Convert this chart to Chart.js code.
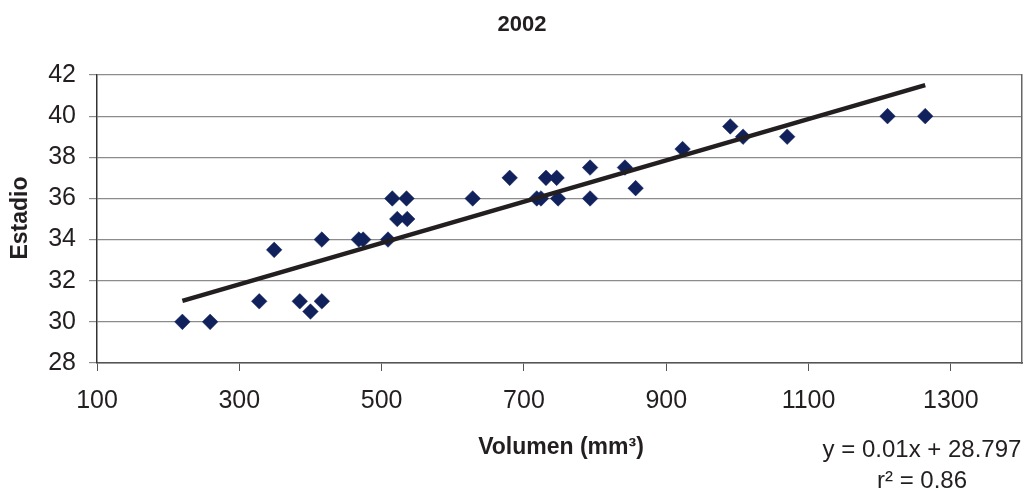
<!DOCTYPE html>
<html>
<head>
<meta charset="utf-8">
<script src="https://cdn.jsdelivr.net/npm/chart.js@4/dist/chart.umd.min.js"></script>
<style>
  html, body { margin: 0; padding: 0; background: #ffffff; }
  #wrap { width: 1024px; height: 491px; position: relative; }
</style>
</head>
<body>
<div id="wrap"><canvas id="c" width="1024" height="491"></canvas></div>
<script>
// ---- Data ----
const volumen = [220, 259, 328, 349, 385, 400, 416, 416, 468, 474, 509, 515, 522, 535, 536, 628,
                 680, 718, 724, 731, 746, 748, 793, 793, 842, 857, 923, 990, 1008, 1070, 1211, 1264];
const estadio = [30, 30, 31, 33.5, 31, 30.5, 31, 34, 34, 34, 34, 36, 35, 36, 35, 36,
                 37, 36, 36, 37, 37, 36, 37.5, 36, 37.5, 36.5, 38.4, 39.5, 39, 39, 40, 40];
const xTicks = [100, 300, 500, 700, 900, 1100, 1300];
const yTicks = [28, 30, 32, 34, 36, 38, 40, 42];
const chartTitle = '2002';
const xTitle = 'Volumen (mm³)';
const yTitle = 'Estadio';
const equationLines = ['y = 0.01x + 28.797', 'r² = 0.86'];

// ---- Linear trendline (least squares over the data) ----
const n = volumen.length;
const mx = volumen.reduce((a, b) => a + b, 0) / n;
const my = estadio.reduce((a, b) => a + b, 0) / n;
let sxy = 0, sxx = 0;
for (let i = 0; i < n; i++) { sxy += (volumen[i] - mx) * (estadio[i] - my); sxx += (volumen[i] - mx) ** 2; }
const slope = sxy / sxx;
const intercept = my - slope * mx;
const xMin = Math.min(...volumen), xMax = Math.max(...volumen);
const trend = [{ x: xMin, y: intercept + slope * xMin }, { x: xMax, y: intercept + slope * xMax }];

const points = volumen.map((v, i) => ({ x: v, y: estadio[i] }));
const FONT = '"Liberation Sans", Arial, Helvetica, sans-serif';
const TXT = '#231f20';

const textPlugin = {
  id: 'texts',
  afterDraw(chart) {
    const ctx = chart.ctx;
    ctx.save();
    ctx.fillStyle = TXT;
    ctx.textAlign = 'center';
    ctx.textBaseline = 'middle';
    ctx.font = 'bold 22px ' + FONT;
    ctx.fillText(chartTitle, 522, 25);
    ctx.font = 'bold 23px ' + FONT;
    ctx.fillText(xTitle, 561, 448);
    ctx.save();
    ctx.translate(21, 218);
    ctx.rotate(-Math.PI / 2);
    ctx.fillText(yTitle, 0, 0);
    ctx.restore();
    ctx.font = '24px ' + FONT;
    ctx.fillText(equationLines[0], 922, 450);
    ctx.fillText(equationLines[1], 922, 481);
    ctx.restore();
  }
};

new Chart(document.getElementById('c'), {
  type: 'scatter',
  data: {
    datasets: [
      {
        type: 'line',
        label: 'Tendencia',
        data: trend,
        borderColor: '#231f20',
        borderWidth: 4.5,
        pointRadius: 0,
        fill: false,
        order: 0
      },
      {
        label: 'Estadio',
        data: points,
        pointStyle: 'rectRot',
        pointRadius: 7.8,
        pointHoverRadius: 7.8,
        backgroundColor: '#10215c',
        borderColor: '#10215c',
        borderWidth: 0.5,
        order: 1
      }
    ]
  },
  options: {
    responsive: false,
    animation: false,
    devicePixelRatio: 1,
    layout: { autoPadding: false, padding: { top: 75, left: 0, right: 0, bottom: 0 } },
    plugins: { legend: { display: false }, tooltip: { enabled: false }, title: { display: false } },
    scales: {
      x: {
        type: 'linear',
        min: 100,
        max: 1400,
        afterBuildTicks: (s) => { s.ticks = xTicks.map(v => ({ value: v })); },
        afterFit: (s) => { s.height = 128; s.paddingRight = 0; s.paddingLeft = 0; },
        grid: { drawOnChartArea: false, drawTicks: true, tickLength: 8, color: '#555555', lineWidth: 1 },
        border: { display: true, color: '#555555', width: 1.5 },
        ticks: { font: { family: FONT, size: 25 }, color: TXT, padding: 15, maxRotation: 0,
                 callback: (v) => String(v) }
      },
      y: {
        type: 'linear',
        min: 28,
        max: 42,
        afterBuildTicks: (s) => { s.ticks = yTicks.map(v => ({ value: v })); },
        afterFit: (s) => { s.width = 97; },
        grid: { drawOnChartArea: true, drawTicks: true, tickLength: 8, color: '#8c8c8c', lineWidth: 1.2 },
        border: { display: true, color: '#333333', width: 1.5 },
        ticks: { font: { family: FONT, size: 25 }, color: TXT, padding: 13, callback: (v) => String(v) }
      },
      y2: {
        type: 'linear',
        position: 'right',
        min: 28,
        max: 42,
        afterFit: (s) => { s.width = 2; },
        grid: { drawOnChartArea: false, drawTicks: false },
        border: { display: true, color: '#666666', width: 1.5 },
        ticks: { display: false }
      }
    }
  },
  plugins: [textPlugin]
});
</script>
</body>
</html>
